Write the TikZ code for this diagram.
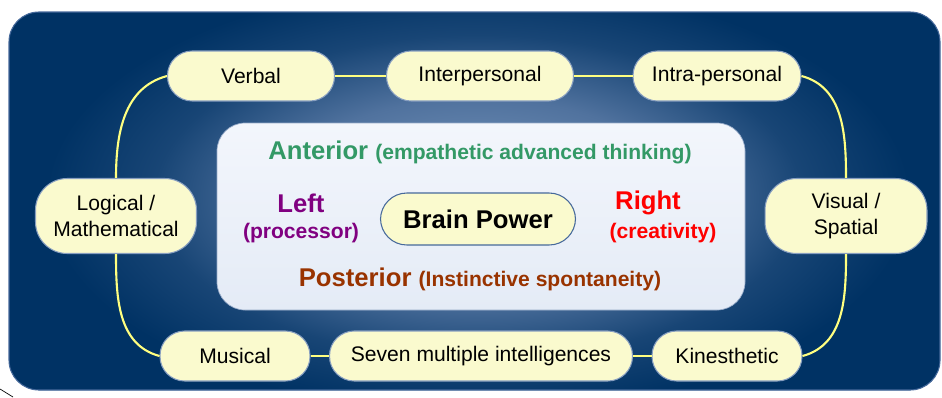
\documentclass[tikz,border=0pt]{standalone}
\usepackage{fontspec}
\setmainfont{Liberation Sans}
\usepackage{xcolor}
\usepackage{tikz}
\usetikzlibrary{arrows.meta, calc}
\usepgflibrary{shadings}

\definecolor{navyblue}{RGB}{0,50,100}
\definecolor{midblue}{RGB}{80,114,158}
\definecolor{glowblue}{RGB}{125,155,192}
\definecolor{rimblue}{RGB}{70,105,155}
\definecolor{paneltop}{RGB}{243,246,252}
\definecolor{panelbot}{RGB}{228,235,246}
\definecolor{panelrim}{RGB}{150,170,200}
\definecolor{nodefill}{RGB}{250,250,206}
\definecolor{nodeedge}{RGB}{135,158,192}
\definecolor{wireyellow}{RGB}{255,255,128}
\definecolor{antgreen}{RGB}{51,153,102}
\definecolor{leftpurple}{RGB}{128,0,128}
\definecolor{rightred}{RGB}{255,0,0}
\definecolor{postbrown}{RGB}{153,51,0}

\pgfdeclareradialshading{brainglow}{\pgfpoint{0bp}{0bp}}{%
  color(0bp)=(glowblue); color(11bp)=(midblue);
  color(18bp)=(navyblue!70!midblue); color(24bp)=(navyblue); color(50bp)=(navyblue)}

\tikzset{
  intel/.style={draw=nodeedge, line width=.6pt, fill=nodefill, rounded corners=14pt,
    minimum height=1cm, inner sep=0pt, align=center, font=\fontsize{12}{14.6}\selectfont},
  wire/.style={draw=wireyellow, line width=1.2pt},
  lobe/.style={font=\bfseries\fontsize{14.6}{17}\selectfont},
  hint/.style={font=\bfseries\fontsize{12}{14}\selectfont},
}
\newcommand\hinttext[1]{{\fontsize{12}{14}\selectfont #1}}
\def\unit{0.02cm}

\begin{document}
\begin{tikzpicture}[x=\unit, y=\unit]
  % \draw[gray] (0,0) grid[step=50] (942,397);
  \useasboundingbox (0,0) rectangle (942,397);
  \draw[black, thin] (0,8) -- (13,0);
  \fill[navyblue, rounded corners=17pt] (9,7) rectangle (940,385);
  \begin{scope}
    \clip[rounded corners=17pt] (9,7) rectangle (940,385);
    \shade[shading=brainglow] (28,-25) rectangle (928,425);
  \end{scope}
  \draw[rimblue, line width=.6pt, rounded corners=17pt] (9,7) rectangle (940,385);
  \shadedraw[rounded corners=16pt, draw=panelrim, line width=.4pt, top color=paneltop, bottom color=panelbot] (217,87) rectangle (745,274);

  % ring of intelligences
  \node[intel, minimum width=3.34cm] (verbal) at (251,321) {Verbal};
  \node[intel, minimum width=3.74cm] (inter) at (480,321) {Interpersonal};
  \node[intel, minimum width=3.36cm] (intra) at (717,321) {Intra-personal};
  \node[intel, minimum width=3.22cm, minimum height=1.5cm, rounded corners=18pt] (logic) at (116,181) {Logical /\\Mathematical};
  \node[intel, minimum width=3.24cm, minimum height=1.5cm, rounded corners=18pt] (visual) at (846,181) {Visual /\\Spatial};
  \node[intel, minimum width=3cm] (music) at (235,41) {Musical};
  \node[intel, minimum width=6.06cm] (seven) at (481,41) {Seven multiple intelligences};
  \node[intel, minimum width=3cm] (kines) at (727,41) {Kinesthetic};

  \draw[wire] (verbal.west) to[out=195, in=90] (logic.north);
  \draw[wire] (verbal.east) -- (inter.west);
  \draw[wire] (inter.east) -- (intra.west);
  \draw[wire] (intra.east) to[out=-15, in=90] (visual.north);
  \draw[wire] (logic.south) to[out=-90, in=165] (music.west);
  \draw[wire] (music.east) -- (seven.west);
  \draw[wire] (seven.east) -- (kines.west);
  \draw[wire] (kines.east) to[out=15, in=-90] (visual.south);

  % the four lobes round the centre
  \node[intel, lobe, minimum width=3.9cm, minimum height=1.04cm, rounded corners=15pt, draw=rimblue] (brain) at (478,178) {Brain Power};
  \node[lobe, text=antgreen] (anterior) at (480,245) {Anterior \hinttext{(empathetic advanced thinking)}};
  \node[lobe, text=postbrown] (posterior) at (480,118) {Posterior \hinttext{(Instinctive spontaneity)}};
  \node[lobe, text=leftpurple] (left) at (301,194) {Left};
  \node[hint, text=leftpurple] (processor) at (301,164) {(processor)};
  \node[lobe, text=rightred] (right) at (648,194) {Right};
  \node[hint, text=rightred] (creativity) at (663,164) {(creativity)};
\end{tikzpicture}
\end{document}
